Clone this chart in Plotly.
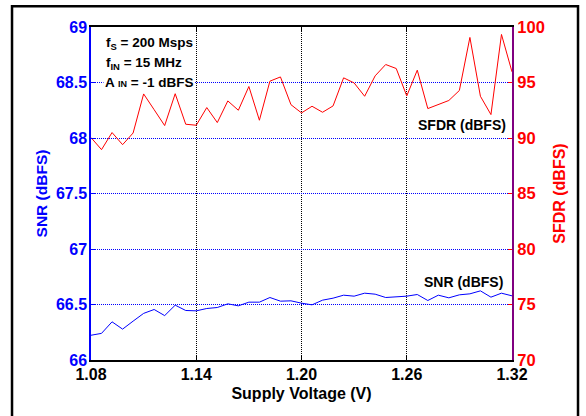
import plotly.graph_objects as go

# ---------------- data ----------------
voltage = [1.080, 1.086, 1.092, 1.098, 1.104, 1.110, 1.116, 1.122, 1.128, 1.134,
           1.140, 1.146, 1.152, 1.158, 1.164, 1.170, 1.176, 1.182, 1.188, 1.194,
           1.200, 1.206, 1.212, 1.218, 1.224, 1.230, 1.236, 1.242, 1.248, 1.254,
           1.260, 1.266, 1.272, 1.278, 1.284, 1.290, 1.296, 1.302, 1.308, 1.314,
           1.320]

sfdr = [90.04, 88.95, 90.49, 89.40, 90.45, 93.97, 92.55, 91.12, 93.99, 91.24,
        91.15, 92.74, 91.39, 93.34, 92.50, 94.64, 91.60, 95.12, 95.50, 93.00,
        92.26, 92.86, 92.32, 92.89, 95.42, 94.96, 93.76, 95.60, 96.62, 96.26,
        93.79, 96.11, 92.65, 93.01, 93.38, 94.28, 99.06, 93.76, 92.11, 99.33,
        95.96]

snr = [66.223, 66.240, 66.344, 66.278, 66.350, 66.420, 66.455, 66.400, 66.494, 66.446,
       66.443, 66.464, 66.473, 66.506, 66.488, 66.521, 66.521, 66.563, 66.530, 66.533,
       66.512, 66.497, 66.539, 66.557, 66.584, 66.575, 66.602, 66.593, 66.563, 66.569,
       66.575, 66.590, 66.536, 66.584, 66.560, 66.587, 66.596, 66.623, 66.566, 66.602,
       66.578]

x_ticks = [1.08, 1.14, 1.20, 1.26, 1.32]
x_tick_labels = ["1.08", "1.14", "1.20", "1.26", "1.32"]
snr_ticks = [66, 66.5, 67, 67.5, 68, 68.5, 69]
snr_tick_labels = ["66", "66.5", "67", "67.5", "68", "68.5", "69"]
sfdr_ticks = [70, 75, 80, 85, 90, 95, 100]
sfdr_tick_labels = ["70", "75", "80", "85", "90", "95", "100"]

# ---------------- figure ----------------
FONT = "Liberation Sans, Arial, sans-serif"
BLUE = "#0000FF"
RED = "#FF0000"
PURPLE = "#800080"

fig = go.Figure()
fig.add_trace(go.Scatter(x=voltage, y=snr, mode="lines",
                         line=dict(color=BLUE, width=1), yaxis="y",
                         showlegend=False, hoverinfo="skip"))
fig.add_trace(go.Scatter(x=voltage, y=sfdr, mode="lines",
                         line=dict(color=RED, width=1), yaxis="y2",
                         showlegend=False, hoverinfo="skip"))

fig.update_layout(
    width=586, height=416,
    margin=dict(l=91, r=74, t=27, b=56),
    paper_bgcolor="white", plot_bgcolor="white",
    font=dict(family=FONT),
    showlegend=False,
    xaxis=dict(
        range=[1.08, 1.32], tickvals=x_ticks, ticktext=x_tick_labels,
        automargin=False,
        showline=True, linecolor="black", linewidth=2, mirror="ticks",
        ticks="inside", ticklen=4, tickcolor="black",
        showgrid=True, gridcolor="black", griddash="1px,1px", gridwidth=1,
        zeroline=False, ticklabelstandoff=-1,
        tickfont=dict(family=FONT, size=16, color="black", weight="bold"),
        title=dict(text="<b>Supply Voltage (V)</b>", standoff=6,
                   font=dict(family=FONT, size=16, color="black")),
    ),
    yaxis=dict(
        range=[66, 69], tickvals=snr_ticks, ticktext=snr_tick_labels,
        automargin=False,
        showline=True, linecolor=BLUE, linewidth=1.5,
        ticks="inside", ticklen=4, tickcolor=BLUE,
        showgrid=True, gridcolor=BLUE, griddash="1px,1px", gridwidth=1,
        zeroline=False, ticklabelstandoff=-1,
        tickfont=dict(family=FONT, size=16, color=BLUE, weight="bold"),
        title=dict(text="<b>SNR (dBFS)</b>", standoff=4,
                   font=dict(family=FONT, size=15.5, color=BLUE)),
    ),
    yaxis2=dict(
        range=[70, 100], tickvals=sfdr_ticks, ticktext=sfdr_tick_labels,
        overlaying="y", side="right", automargin=False,
        showline=True, linecolor=PURPLE, linewidth=2,
        ticks="inside", ticklen=4, tickcolor=RED,
        showgrid=False, zeroline=False,
        tickfont=dict(family=FONT, size=16.5, color=RED, weight="bold"),
        title=dict(text="<b>SFDR (dBFS)</b>", standoff=10,
                   font=dict(family=FONT, size=16, color=RED)),
    ),
)

# outer frame of the figure
fig.add_shape(type="rect", xref="paper", yref="paper",
              x0=-0.1876, x1=1.1568, y0=-0.2, y1=1.062,
              line=dict(color="black", width=2.5), layer="below")

def px_x(px):
    return (px - 91) / 421.0

def px_y(py):
    return (360 - py) / 333.0

ann_font = dict(family=FONT, size=13.5, color="black")
fig.add_annotation(text="<b>f<sub>S</sub> = 200 Msps</b>", xref="paper", yref="paper",
                   x=px_x(104), y=px_y(44), xanchor="left", yanchor="middle",
                   showarrow=False, font=ann_font)
fig.add_annotation(text="<b>f<sub>IN</sub> = 15 MHz</b>", xref="paper", yref="paper",
                   x=px_x(104), y=px_y(63), xanchor="left", yanchor="middle",
                   showarrow=False, font=ann_font)
fig.add_annotation(text="<b>A <span style='font-size:9px'>IN</span> = -1 dBFS</b>",
                   xref="paper", yref="paper",
                   x=px_x(103), y=px_y(82), xanchor="left", yanchor="middle",
                   showarrow=False, font=ann_font, bgcolor="white", borderpad=1)
fig.add_annotation(text="<b>SFDR (dBFS)</b>", xref="paper", yref="paper",
                   x=px_x(461.5), y=px_y(125), xanchor="center", yanchor="middle",
                   showarrow=False, font=dict(family=FONT, size=14, color="black"),
                   bgcolor="white")
fig.add_annotation(text="<b>SNR (dBFS)</b>", xref="paper", yref="paper",
                   x=px_x(463.5), y=px_y(282), xanchor="center", yanchor="middle",
                   showarrow=False, font=dict(family=FONT, size=14, color="black"))

fig.write_html("out.html", config={"displayModeBar": False},
               post_script="document.body.style.margin='0';")
